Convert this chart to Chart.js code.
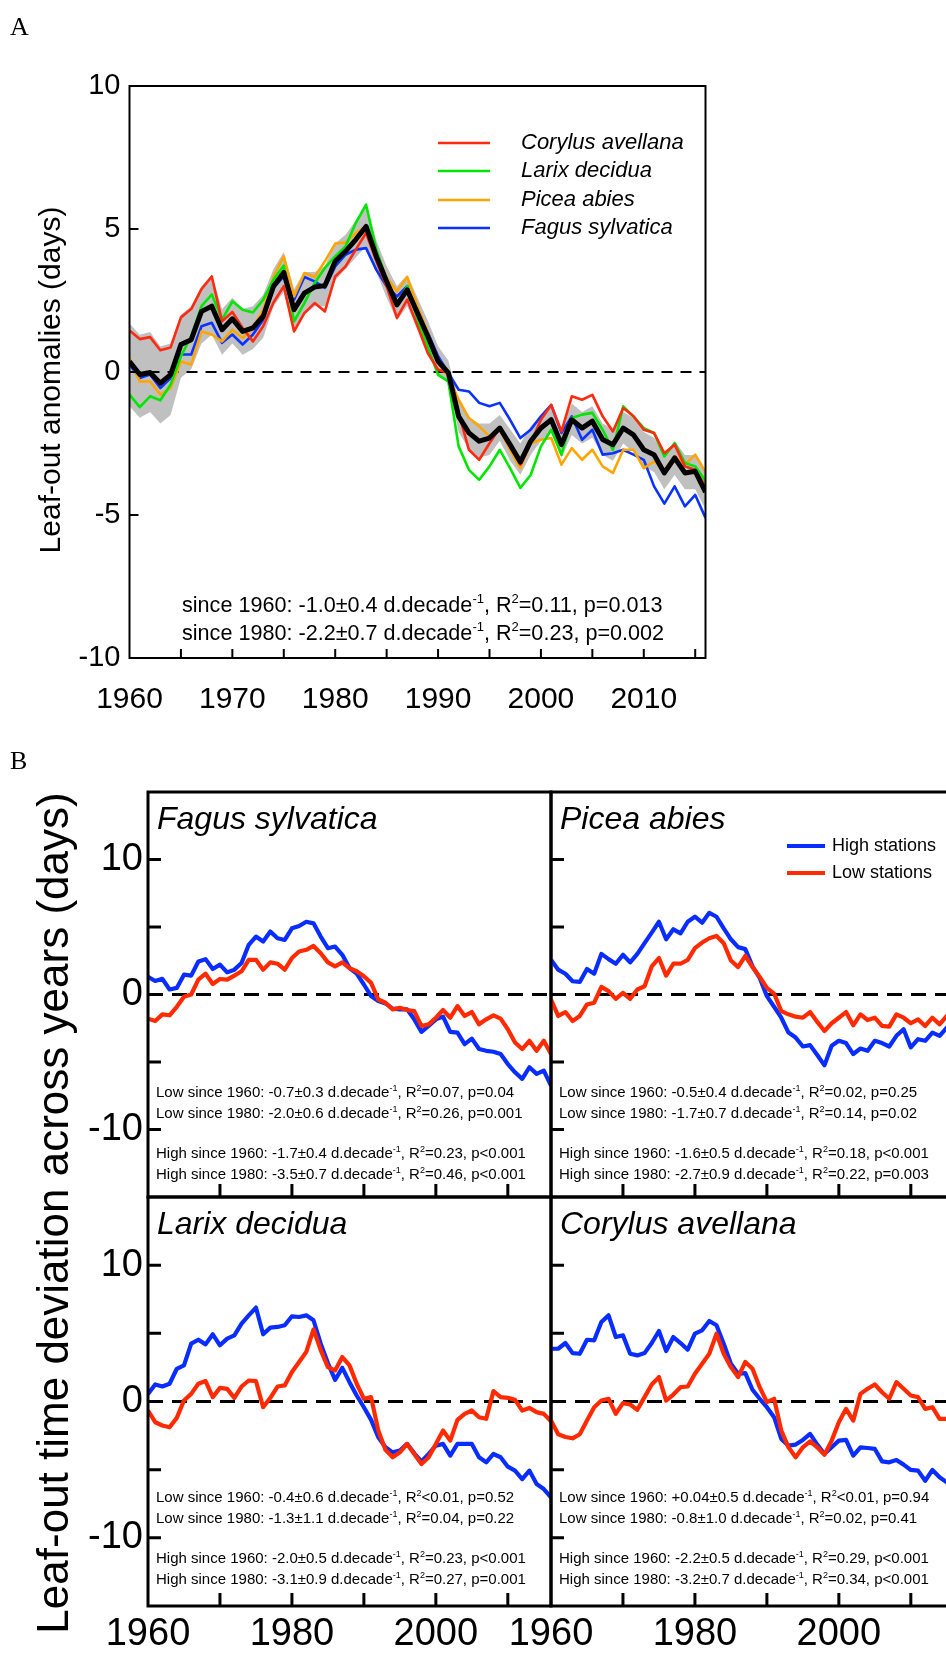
<!DOCTYPE html>
<html>
<head>
<meta charset="utf-8">
<script src="https://cdn.jsdelivr.net/npm/chart.js@4.4.1/dist/chart.umd.min.js"></script>
<style>
  html, body { margin: 0; padding: 0; background: #fff; overflow: hidden; width: 946px; height: 1658px; }
  canvas { position: absolute; left: 0; top: 0; }
</style>
</head>
<body>
<canvas id="cA" width="960" height="1658"></canvas>
<canvas id="cFagus" width="960" height="1658"></canvas>
<canvas id="cPicea" width="960" height="1658"></canvas>
<canvas id="cLarix" width="960" height="1658"></canvas>
<canvas id="cCorylus" width="960" height="1658"></canvas>
<script>
// Leaf-out anomalies, 1960-2016 (panel A) and high / low stations per species (panel B)

const YEARS = Array.from({ length: 57 }, (_, i) => 1960 + i);

// ---- panel A : species anomalies (days) ----
const A_MEAN   = [0.37,-0.09,-0.02,-0.39,-0.09,0.96,1.13,2.12,2.30,1.48, 1.86,1.42,1.54,1.95,3.00,3.48,2.18,2.76,2.97,3.02, 3.87,4.22,4.63,5.09,4.04,3.17,2.35,2.87,2.06,1.25, 0.37,-0.03,-1.55,-2.13,-2.42,-2.31,-1.96,-2.54,-3.15,-2.42, -1.96,-1.67,-2.54,-1.67,-1.96,-1.72,-2.36,-2.54,-1.96,-2.20, -2.72,-2.89,-3.53,-3.00,-3.53,-3.47,-4.20];
const A_UPPER  = [1.7,1.3,1.4,0.9,1.0,2.0,2.3,3.0,3.4,2.2, 2.6,2.2,2.3,2.7,3.6,4.2,2.9,3.5,3.5,3.7, 4.5,4.8,5.3,5.8,4.6,3.7,3.0,3.4,2.6,1.8, 0.9,0.4,-1.0,-1.6,-1.8,-1.8,-1.5,-2.0,-2.5,-1.9, -1.5,-1.2,-2.0,-1.1,-1.4,-1.2,-1.8,-2.0,-1.4,-1.6, -2.1,-2.3,-2.9,-2.4,-2.9,-2.9,-3.5];
const A_LOWER  = [-1.2,-1.6,-1.4,-1.8,-1.5,-0.2,0.1,1.0,1.3,0.6, 1.0,0.6,0.8,1.2,2.3,2.8,1.4,2.0,2.3,2.3, 3.2,3.6,4.0,4.4,3.5,2.6,1.8,2.3,1.5,0.7, -0.1,-0.4,-2.1,-2.7,-3.0,-2.9,-2.4,-3.1,-3.6,-2.9, -2.4,-2.1,-3.0,-2.2,-2.5,-2.3,-2.9,-3.1,-2.5,-2.8, -3.3,-3.5,-4.1,-3.6,-4.1,-4.1,-4.8];
const A_CORYLUS = [1.45,1.15,1.22,0.76,0.86,1.91,2.20,2.90,3.34,1.77, 2.10,1.54,1.07,1.60,2.43,3.00,1.42,2.06,2.41,2.12, 3.34,3.69,4.28,4.86,3.87,3.00,1.89,2.53,1.60,0.66, 0.08,-0.03,-1.43,-2.72,-3.07,-2.49,-1.96,-2.60,-3.24,-2.49, -1.67,-1.15,-2.08,-0.85,-0.97,-0.80,-1.55,-2.08,-1.26,-1.55, -2.02,-2.13,-2.84,-2.54,-3.30,-3.42,-4.00];
const A_LARIX   = [-0.79,-1.23,-0.85,-0.99,-0.44,0.55,1.25,2.30,2.71,1.83, 2.47,2.18,2.08,2.53,3.23,3.72,1.77,2.41,3.11,3.64, 4.04,4.39,5.21,5.85,4.28,3.23,2.30,3.00,1.83,0.89, -0.10,-0.33,-2.60,-3.42,-3.77,-3.30,-2.72,-3.36,-4.05,-3.60, -2.60,-2.02,-2.89,-1.61,-1.49,-1.43,-2.02,-2.72,-1.20,-1.55, -1.96,-2.13,-2.95,-2.49,-3.18,-3.30,-3.80];
const A_PICEA   = [0.49,-0.33,-0.33,-0.79,-0.56,0.37,0.26,1.42,1.31,1.07, 1.48,1.19,1.54,2.18,3.34,4.04,2.64,3.46,3.32,3.87, 4.49,4.53,4.86,5.09,4.16,3.29,2.82,3.32,2.30,1.37, 0.32,-0.15,-0.97,-1.61,-1.90,-2.25,-2.02,-2.72,-3.36,-2.49, -2.37,-2.31,-3.24,-2.66,-3.07,-2.72,-3.30,-3.53,-2.72,-2.72, -3.36,-3.13,-3.42,-2.95,-3.24,-2.89,-3.50];
const A_FAGUS   = [0.26,-0.21,-0.09,-0.56,-0.21,0.61,0.61,1.60,1.72,1.02, 1.31,0.96,1.31,1.83,2.94,3.34,2.53,3.32,3.17,2.94, 3.69,4.10,4.28,4.33,3.57,3.00,2.64,3.00,2.06,1.37, 0.55,-0.03,-0.62,-0.68,-1.08,-1.20,-1.08,-1.67,-2.31,-2.02, -1.55,-1.15,-2.13,-1.55,-2.37,-2.02,-2.89,-2.84,-2.72,-2.89, -3.07,-4.00,-4.60,-4.00,-4.70,-4.30,-5.10];

const A_NAMES = ['Corylus avellana', 'Larix decidua', 'Picea abies', 'Fagus sylvatica'];
const A_X_LABELS = [1960, 1970, 1980, 1990, 2000, 2010];
const A_X_MARKS  = [1965, 1970, 1975, 1980, 1985, 1990, 1995, 2000, 2005, 2010, 2015];
const A_Y_LABELS = [-10, -5, 0, 5, 10];
const A_Y_MARKS  = [-5, 0, 5];
const A_STATS = [
  ['since 1960', '-1.0±0.4', '=0.11', '=0.013'],
  ['since 1980', '-2.2±0.7', '=0.23', '=0.002']
];

// ---- panel B : high and low stations (days) ----
const FAGUS_HIGH = [1.30,1.00,1.16,0.37,0.49,1.47,1.40,2.45,2.62,1.89, 2.21,1.64,1.84,2.33,3.68,4.29,3.92,4.66,4.17,4.04, 4.90,5.07,5.39,5.27,4.29,3.43,3.55,2.94,1.96,1.54, 0.74,-0.12,-0.49,-0.66,-1.05,-1.10,-1.10,-1.84,-2.77,-2.33, -1.84,-1.64,-2.77,-2.82,-3.68,-3.27,-4.04,-4.17,-4.24,-4.41, -5.15,-5.76,-6.25,-5.39,-5.88,-5.64,-6.74];
const FAGUS_LOW  = [-1.79,-1.96,-1.47,-1.54,-0.91,-0.17,0.00,1.10,1.54,0.78, 1.15,1.10,1.40,1.72,2.57,2.57,1.84,2.38,2.28,1.84, 2.70,3.19,3.31,3.60,3.06,2.38,2.09,2.38,1.96,1.72, 1.35,0.86,-0.37,-0.61,-1.10,-0.98,-1.15,-1.23,-2.33,-2.21, -1.72,-1.15,-1.72,-0.86,-1.59,-1.30,-2.21,-1.84,-1.55,-1.79, -2.57,-3.55,-4.04,-3.43,-4.17,-3.43,-4.41];
const PICEA_HIGH = [2.57,1.84,1.54,0.98,0.93,1.89,1.54,3.01,2.62,2.28, 2.94,2.38,3.01,3.80,4.58,5.39,4.09,4.83,4.53,5.39, 5.76,5.32,6.05,5.76,4.90,4.09,3.51,3.36,2.08,1.23, -0.12,-0.91,-1.72,-2.82,-3.19,-3.85,-3.75,-4.48,-5.25,-3.80, -3.43,-3.60,-4.41,-4.00,-4.17,-3.43,-3.60,-3.85,-3.06,-2.57, -3.92,-3.31,-3.43,-2.82,-3.06,-2.45,-2.30];
const PICEA_LOW  = [-0.37,-1.59,-1.30,-1.96,-1.59,-0.74,-0.61,0.56,0.25,-0.32, 0.12,-0.32,0.37,0.61,2.08,2.70,1.40,2.28,2.28,2.57, 3.43,3.85,4.17,4.34,3.80,2.52,2.03,2.87,2.03,1.30, 0.49,0.07,-1.23,-1.47,-1.64,-1.72,-1.30,-2.03,-2.70,-2.13, -1.72,-1.30,-2.28,-1.47,-1.89,-1.72,-2.33,-2.38,-1.47,-1.72, -2.13,-1.84,-2.33,-1.72,-2.21,-1.59,-1.80];
const LARIX_HIGH = [0.56,1.25,1.10,1.30,2.40,2.65,4.24,4.53,4.19,4.93, 4.12,4.61,4.85,5.71,6.32,6.89,4.93,5.42,5.47,5.59, 6.25,6.20,6.32,5.96,4.24,2.82,1.59,2.47,1.42,0.44, -0.42,-1.35,-2.62,-3.36,-3.73,-3.60,-3.11,-3.80,-4.39,-3.85, -3.24,-3.11,-3.97,-3.11,-3.11,-3.11,-4.09,-4.46,-3.85,-4.09, -4.78,-5.07,-5.69,-5.07,-6.05,-6.42,-7.03];
const LARIX_LOW  = [-0.66,-1.52,-1.76,-1.89,-1.20,0.07,0.56,1.30,1.50,0.32, 1.00,0.93,0.27,1.10,1.54,1.50,-0.42,0.27,1.10,1.18, 2.16,2.90,3.64,5.29,3.77,2.52,2.28,3.26,2.65,1.30, 0.20,0.32,-2.13,-3.55,-4.09,-3.73,-3.11,-3.85,-4.58,-4.09, -3.11,-2.13,-2.87,-1.35,-0.91,-0.66,-1.15,-1.27,0.76,0.32, 0.27,0.12,-0.66,-0.47,-0.78,-0.91,-1.45];
const CORYLUS_HIGH = [3.87,3.87,4.29,3.55,3.50,4.53,4.49,5.83,6.32,4.73, 4.85,3.50,3.38,3.55,4.29,5.17,3.70,4.73,4.29,3.80, 4.98,5.22,5.91,5.59,4.24,2.77,2.03,2.08,0.86,0.20, -0.42,-1.15,-2.74,-3.24,-3.16,-2.82,-2.38,-3.16,-3.85,-3.36, -2.87,-2.82,-3.97,-3.36,-3.41,-3.48,-4.39,-4.46,-4.29,-4.63, -5.02,-5.07,-5.81,-5.02,-5.56,-5.93,-6.20];
const CORYLUS_LOW  = [-1.40,-2.40,-2.60,-2.70,-2.40,-1.40,-0.42,0.07,0.20,-0.91, -0.12,-0.22,-0.61,0.32,1.25,1.79,0.07,0.51,1.05,1.10, 2.03,2.77,3.50,4.98,3.50,2.52,1.79,2.90,2.40,1.05, -0.05,0.20,-2.13,-3.36,-4.09,-3.36,-2.92,-3.36,-3.90,-2.87, -1.52,-0.54,-1.40,0.56,0.93,1.25,0.68,0.20,1.42,0.93, 0.44,0.32,-0.54,-0.42,-1.27,-1.27,-1.30];

const FAGUS_STATS = [
  ['Low since 1960', '-0.7±0.3', '=0.07', '=0.04'],
  ['Low since 1980', '-2.0±0.6', '=0.26', '=0.001'],
  ['High since 1960', '-1.7±0.4', '=0.23', '<0.001'],
  ['High since 1980', '-3.5±0.7', '=0.46', '<0.001']
];
const PICEA_STATS = [
  ['Low since 1960', '-0.5±0.4', '=0.02', '=0.25'],
  ['Low since 1980', '-1.7±0.7', '=0.14', '=0.02'],
  ['High since 1960', '-1.6±0.5', '=0.18', '<0.001'],
  ['High since 1980', '-2.7±0.9', '=0.22', '=0.003']
];
const LARIX_STATS = [
  ['Low since 1960', '-0.4±0.6', '<0.01', '=0.52'],
  ['Low since 1980', '-1.3±1.1', '=0.04', '=0.22'],
  ['High since 1960', '-2.0±0.5', '=0.23', '<0.001'],
  ['High since 1980', '-3.1±0.9', '=0.27', '=0.001']
];
const CORYLUS_STATS = [
  ['Low since 1960', '+0.04±0.5', '<0.01', '=0.94'],
  ['Low since 1980', '-0.8±1.0', '=0.02', '=0.41'],
  ['High since 1960', '-2.2±0.5', '=0.29', '<0.001'],
  ['High since 1980', '-3.2±0.7', '=0.34', '<0.001']
];
const B_X_LABELS = [1960, 1980, 2000];
const B_X_MARKS  = [1970, 1980, 1990, 2000, 2010];
const B_Y_LABELS = [-10, 0, 10];
const B_Y_MARKS  = [-10, -5, 0, 5, 10];
const B_LEGEND   = ['High stations', 'Low stations'];

// ---- style ----
const FONT  = '"Liberation Sans", Arial, Helvetica, sans-serif';
const SERIF = '"Liberation Serif", "Times New Roman", serif';
const RED = '#ff2a10', GREEN = '#00e600', ORANGE = '#ffa500', BLUE = '#0a33ff';
const B_RED = '#ff2a00', B_BLUE = '#0a2dff';
const W = 960, H = 1658;

Chart.defaults.font.family = FONT;
Chart.defaults.color = '#000';

const pts = vals => vals.map((v, i) => ({ x: YEARS[i], y: v }));
const zeroLine = (w, dash, order) => ({
  data: [{ x: 1960, y: 0 }, { x: 2016, y: 0 }],
  borderColor: '#000', borderWidth: w, borderDash: dash, pointRadius: 0, fill: false, order
});
const line = (vals, color, w, order) => ({
  data: pts(vals), borderColor: color, borderWidth: w, pointRadius: 0,
  tension: 0, fill: false, order, borderJoinStyle: 'round'
});

function richText(ctx, parts, x, yMid, size) {
  let cx = x;
  const base = yMid + size * 0.36;
  ctx.fillStyle = '#000';
  ctx.textAlign = 'left';
  ctx.textBaseline = 'alphabetic';
  for (const [t, sup] of parts) {
    const s = sup ? Math.round(size * 0.62) : size;
    ctx.font = s + 'px ' + FONT;
    ctx.fillText(t, cx, sup ? base - size * 0.42 : base);
    cx += ctx.measureText(t).width;
  }
}
const statParts = ([label, slope, r2, p]) =>
  [[label + ': ' + slope + ' d.decade', 0], ['-1', 1], [', R', 0], ['2', 1], [r2 + ', p' + p, 0]];

function rotText(ctx, text, cx, cy, size, maxW) {
  ctx.save();
  ctx.translate(cx, cy);
  ctx.rotate(-Math.PI / 2);
  ctx.font = size + 'px ' + FONT;
  ctx.fillStyle = '#000';
  ctx.textAlign = 'center';
  ctx.textBaseline = 'middle';
  ctx.fillText(text, 0, 0, maxW);
  ctx.restore();
}

// frame, inward tick marks, then whatever extra text the panel needs
function deco(p) {
  return {
    id: 'deco_' + p.id,
    afterDatasetsDraw(chart) {
      const { ctx, chartArea: a, scales: { x, y } } = chart;
      ctx.save();
      ctx.strokeStyle = '#000';
      ctx.lineWidth = p.tickW;
      ctx.beginPath();
      p.xMarks.forEach(v => { const px = x.getPixelForValue(v); ctx.moveTo(px, a.bottom); ctx.lineTo(px, a.bottom - p.tickLen); });
      p.yMarks.forEach(v => { const py = y.getPixelForValue(v); ctx.moveTo(a.left, py); ctx.lineTo(a.left + p.tickLen, py); });
      ctx.stroke();
      ctx.lineWidth = p.frameW;
      ctx.strokeRect(a.left, a.top, a.right - a.left, a.bottom - a.top);
      ctx.restore();
    },
    afterDraw(chart) {
      chart.ctx.save();
      p.extra(chart.ctx, chart.chartArea);
      chart.ctx.restore();
    }
  };
}

function panelChart(p) {
  const yW = 60, xH = 60;
  return new Chart(document.getElementById(p.id), {
    type: 'line',
    data: { datasets: p.datasets },
    options: {
      responsive: false, devicePixelRatio: 1, animation: false, events: [],
      layout: { padding: { left: p.area.left - yW, top: p.area.top, right: W - p.area.right, bottom: H - p.area.bottom - xH } },
      plugins: { legend: { display: false }, tooltip: { enabled: false } },
      scales: {
        x: {
          type: 'linear', min: 1960, max: 2016,
          grid: { display: false, drawTicks: false }, border: { display: false },
          afterFit: s => { s.height = xH; },
          afterBuildTicks: s => { s.ticks = p.xLabels.map(v => ({ value: v })); },
          ticks: { display: p.showX, autoSkip: false, maxRotation: 0, padding: p.xPad,
                   font: { size: p.xFont }, color: '#000', callback: v => String(v) }
        },
        y: {
          type: 'linear', min: p.yMin, max: p.yMax,
          grid: { display: false, drawTicks: false }, border: { display: false },
          afterFit: s => { s.width = yW; },
          afterBuildTicks: s => { s.ticks = p.yLabels.map(v => ({ value: v })); },
          ticks: { display: p.showY, autoSkip: false, padding: p.yPad,
                   font: { size: p.yFont }, color: '#000', callback: v => String(v) }
        }
      }
    },
    plugins: [deco(p)]
  });
}

// ---------- panel A ----------
panelChart({
  id: 'cA', area: { left: 129.5, top: 86, right: 705.5, bottom: 658 },
  yMin: -10, yMax: 10,
  xLabels: A_X_LABELS, yLabels: A_Y_LABELS, xMarks: A_X_MARKS, yMarks: A_Y_MARKS,
  showX: true, showY: true, xFont: 30, yFont: 29, xPad: 24, yPad: 9,
  tickLen: 9, tickW: 2, frameW: 2,
  datasets: [
    { data: pts(A_UPPER), borderWidth: 0, pointRadius: 0, fill: '+1', backgroundColor: '#c0c0c0', order: 9 },
    { data: pts(A_LOWER), borderWidth: 0, pointRadius: 0, fill: false, order: 9 },
    zeroLine(2, [11, 8], 8),
    line(A_FAGUS, BLUE, 2.6, 6),
    line(A_PICEA, ORANGE, 2.6, 5),
    line(A_LARIX, GREEN, 2.6, 4),
    line(A_CORYLUS, RED, 2.6, 3),
    line(A_MEAN, '#000', 5, 1)
  ],
  extra(ctx) {
    ctx.fillStyle = '#000';
    ctx.font = '26px ' + SERIF;
    ctx.textAlign = 'left';
    ctx.textBaseline = 'alphabetic';
    ctx.fillText('A', 10, 35);
    rotText(ctx, 'Leaf-out anomalies (days)', 52, 380, 30, 350);
    const cols = [RED, GREEN, ORANGE, BLUE];
    const rows = [143, 171, 200, 228];
    A_NAMES.forEach((n, i) => {
      ctx.strokeStyle = cols[i];
      ctx.lineWidth = 2.6;
      ctx.beginPath(); ctx.moveTo(438, rows[i]); ctx.lineTo(490, rows[i]); ctx.stroke();
      ctx.fillStyle = '#000';
      ctx.font = 'italic 22px ' + FONT;
      ctx.textBaseline = 'middle';
      ctx.fillText(n, 521, rows[i]);
    });
    richText(ctx, statParts(A_STATS[0]), 182, 604, 21.6);
    richText(ctx, statParts(A_STATS[1]), 182, 632, 21.6);
  }
});

// ---------- panel B ----------
const B_PANELS = [
  { id: 'cFagus',   name: 'Fagus sylvatica',  high: FAGUS_HIGH,   low: FAGUS_LOW,   stats: FAGUS_STATS,
    area: { left: 148, top: 792, right: 551, bottom: 1197 }, showX: false, showY: true },
  { id: 'cPicea',   name: 'Picea abies',      high: PICEA_HIGH,   low: PICEA_LOW,   stats: PICEA_STATS,
    area: { left: 551, top: 792, right: 954, bottom: 1197 }, showX: false, showY: false, legend: true },
  { id: 'cLarix',   name: 'Larix decidua',    high: LARIX_HIGH,   low: LARIX_LOW,   stats: LARIX_STATS,
    area: { left: 148, top: 1197, right: 551, bottom: 1606 }, showX: true, showY: true },
  { id: 'cCorylus', name: 'Corylus avellana', high: CORYLUS_HIGH, low: CORYLUS_LOW, stats: CORYLUS_STATS,
    area: { left: 551, top: 1197, right: 954, bottom: 1606 }, showX: true, showY: false }
];

B_PANELS.forEach((b, k) => {
  panelChart({
    id: b.id, area: b.area, yMin: -15, yMax: 15,
    xLabels: B_X_LABELS, yLabels: B_Y_LABELS, xMarks: B_X_MARKS, yMarks: B_Y_MARKS,
    showX: b.showX, showY: b.showY, xFont: 38, yFont: 38, xPad: 6, yPad: 5,
    tickLen: 13, tickW: 3, frameW: 3,
    datasets: [
      zeroLine(3, [15, 9], 3),
      line(b.high, B_BLUE, 4.2, 2),
      line(b.low, B_RED, 4.2, 1)
    ],
    extra(ctx, a) {
      if (k === 0) {
        ctx.fillStyle = '#000';
        ctx.font = '26px ' + SERIF;
        ctx.textAlign = 'left';
        ctx.textBaseline = 'alphabetic';
        ctx.fillText('B', 10, 769);
        rotText(ctx, 'Leaf-out time deviation across years (days)', 56, 1213, 44, 850);
      }
      ctx.fillStyle = '#000';
      ctx.font = 'italic 32px ' + FONT;
      ctx.textAlign = 'left';
      ctx.textBaseline = 'alphabetic';
      ctx.fillText(b.name, a.left + 9, a.top + 37);
      const offs = [300, 321, 361, 382];
      b.stats.forEach((row, i) => richText(ctx, statParts(row), a.left + 8, a.top + offs[i], 15));
      if (b.legend) {
        [B_BLUE, B_RED].forEach((c, i) => {
          const yy = [846, 873][i];
          ctx.strokeStyle = c;
          ctx.lineWidth = 4;
          ctx.beginPath(); ctx.moveTo(787, yy); ctx.lineTo(825, yy); ctx.stroke();
          ctx.fillStyle = '#000';
          ctx.font = '18px ' + FONT;
          ctx.textBaseline = 'middle';
          ctx.fillText(B_LEGEND[i], 832, yy);
        });
      }
    }
  });
});
</script>
</body>
</html>
